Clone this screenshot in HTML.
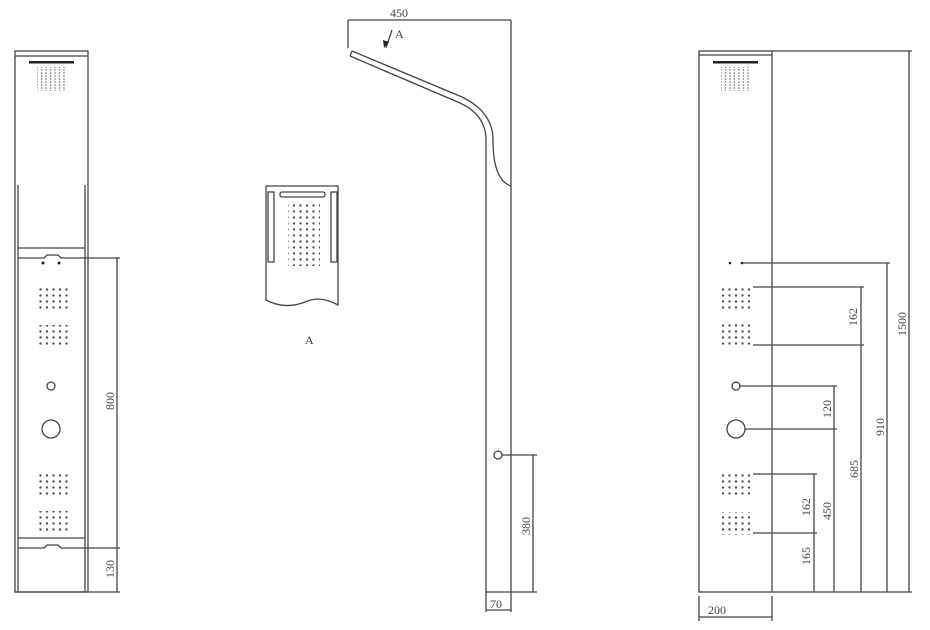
<!DOCTYPE html>
<html><head><meta charset="utf-8"><style>
html,body{margin:0;padding:0;background:#fff;}
svg{display:block}
text{font-family:"Liberation Serif",serif;fill:#444;font-size:12px}
</style></head><body>
<svg width="930" height="630" viewBox="0 0 930 630" xmlns="http://www.w3.org/2000/svg">
<defs>
<pattern id="d" x="0" y="0" width="6.5" height="6" patternUnits="userSpaceOnUse"><circle cx="1.5" cy="1.5" r="1.2" fill="#555"/></pattern>
<pattern id="ds" x="0" y="0" width="4.5" height="3" patternUnits="userSpaceOnUse"><circle cx="1" cy="1" r="0.8" fill="#666"/></pattern>
</defs>
<g fill="none" stroke="#444" stroke-width="1.3">
<!-- LEFT PANEL -->
<rect x="15" y="51" width="73" height="541"/>
<line x1="15" y1="56" x2="88" y2="56"/>
<line x1="18" y1="185" x2="18" y2="592"/>
<line x1="85" y1="185" x2="85" y2="592"/>
<line x1="18" y1="248" x2="85" y2="248"/>
<path d="M18 258 H44 L47 255 H58 L61 258 H85"/>
<line x1="18" y1="538" x2="85" y2="538"/>
<path d="M18 548 H44 L47 545 H58 L61 548 H85"/>
<line x1="85" y1="258" x2="120" y2="258"/>
<line x1="85" y1="548" x2="120" y2="548"/>
<line x1="15" y1="592" x2="120" y2="592"/>
<line x1="117" y1="258" x2="117" y2="592"/>
<circle cx="51" cy="386" r="4"/>
<circle cx="51" cy="429" r="9"/>
<!-- DETAIL A -->
<path d="M266 186 H338 V305 Q320 295 305 302 Q285 310 266 300 Z"/>
<rect x="268" y="192" width="6" height="70"/>
<rect x="331" y="192" width="6" height="70"/>
<rect x="280" y="192" width="45" height="5" rx="2"/>
<!-- MIDDLE TUBE -->
<line x1="348" y1="20" x2="511" y2="20"/>
<line x1="348" y1="20" x2="348" y2="48"/>
<line x1="511" y1="20" x2="511" y2="592"/>
<path d="M352 51 L462 97 Q493 112 493 140 Q493 180 511 186"/>
<path d="M350 56 L460 103 Q486 115 486 140 V592"/>
<line x1="352" y1="51" x2="350" y2="56"/>
<line x1="486" y1="592" x2="537" y2="592"/>
<circle cx="498" cy="455" r="4"/>
<line x1="502" y1="455" x2="537" y2="455"/>
<line x1="533" y1="455" x2="533" y2="592"/>
<line x1="486" y1="592" x2="486" y2="612"/>
<line x1="511" y1="592" x2="511" y2="612"/>
<line x1="486" y1="610" x2="511" y2="610"/>
<line x1="392" y1="30" x2="386" y2="48"/>
<!-- RIGHT PANEL -->
<rect x="699" y="51" width="73" height="541"/>
<line x1="699" y1="55" x2="772" y2="55"/>
<line x1="772" y1="51" x2="912" y2="51"/>
<line x1="909" y1="51" x2="909" y2="592"/>
<line x1="772" y1="592" x2="912" y2="592"/>
<line x1="742" y1="263" x2="890" y2="263"/>
<line x1="887" y1="263" x2="887" y2="592"/>
<line x1="753" y1="287" x2="864" y2="287"/>
<line x1="753" y1="345" x2="864" y2="345"/>
<line x1="861" y1="287" x2="861" y2="592"/>
<circle cx="736" cy="386" r="4"/>
<line x1="740" y1="386" x2="837" y2="386"/>
<line x1="745" y1="429" x2="837" y2="429"/>
<circle cx="736" cy="429" r="9"/>
<line x1="834" y1="386" x2="834" y2="592"/>
<line x1="753" y1="474" x2="817" y2="474"/>
<line x1="753" y1="533" x2="817" y2="533"/>
<line x1="814" y1="474" x2="814" y2="592"/>
<line x1="699" y1="596" x2="699" y2="621"/>
<line x1="772" y1="596" x2="772" y2="621"/>
<line x1="699" y1="617" x2="772" y2="617"/>
</g>
<g fill="#222">
<rect x="29" y="61" width="45" height="2.5"/>
<rect x="713" y="61" width="45" height="2.5"/>
<circle cx="43" cy="263" r="1.5"/><circle cx="59" cy="263" r="1.5"/>
<circle cx="730" cy="263" r="1.3"/><circle cx="742" cy="263" r="1.3"/>
<polygon points="384,48 383,40 389,42"/>
</g>
<rect x="37" y="67" width="29" height="24" fill="url(#ds)"/>
<rect x="721" y="67" width="29" height="24" fill="url(#ds)"/>
<rect x="37" y="287" width="32" height="23" fill="url(#d)"/>
<rect x="37" y="325" width="32" height="23" fill="url(#d)"/>
<rect x="37" y="473" width="32" height="23" fill="url(#d)"/>
<rect x="37" y="511" width="32" height="23" fill="url(#d)"/>
<rect x="721" y="286" width="32" height="23" fill="url(#d)"/>
<rect x="721" y="324" width="32" height="23" fill="url(#d)"/>
<rect x="721" y="473" width="32" height="23" fill="url(#d)"/>
<rect x="721" y="512" width="32" height="23" fill="url(#d)"/>
<rect x="288" y="204" width="32" height="62" fill="url(#d)"/>
<text x="390" y="17">450</text>
<text x="395" y="38">A</text>
<text x="305" y="344">A</text>
<text x="490" y="608" font-size="11">70</text>
<text x="708" y="614">200</text>
<text transform="translate(114,410) rotate(-90)">800</text>
<text transform="translate(114,578) rotate(-90)">130</text>
<text transform="translate(530,535) rotate(-90)">380</text>
<text transform="translate(857,326) rotate(-90)">162</text>
<text transform="translate(906,336) rotate(-90)">1500</text>
<text transform="translate(884,436) rotate(-90)">910</text>
<text transform="translate(831,418) rotate(-90)">120</text>
<text transform="translate(858,478) rotate(-90)">685</text>
<text transform="translate(810,516) rotate(-90)">162</text>
<text transform="translate(831,520) rotate(-90)">450</text>
<text transform="translate(810,565) rotate(-90)">165</text>
</svg>
</body></html>
